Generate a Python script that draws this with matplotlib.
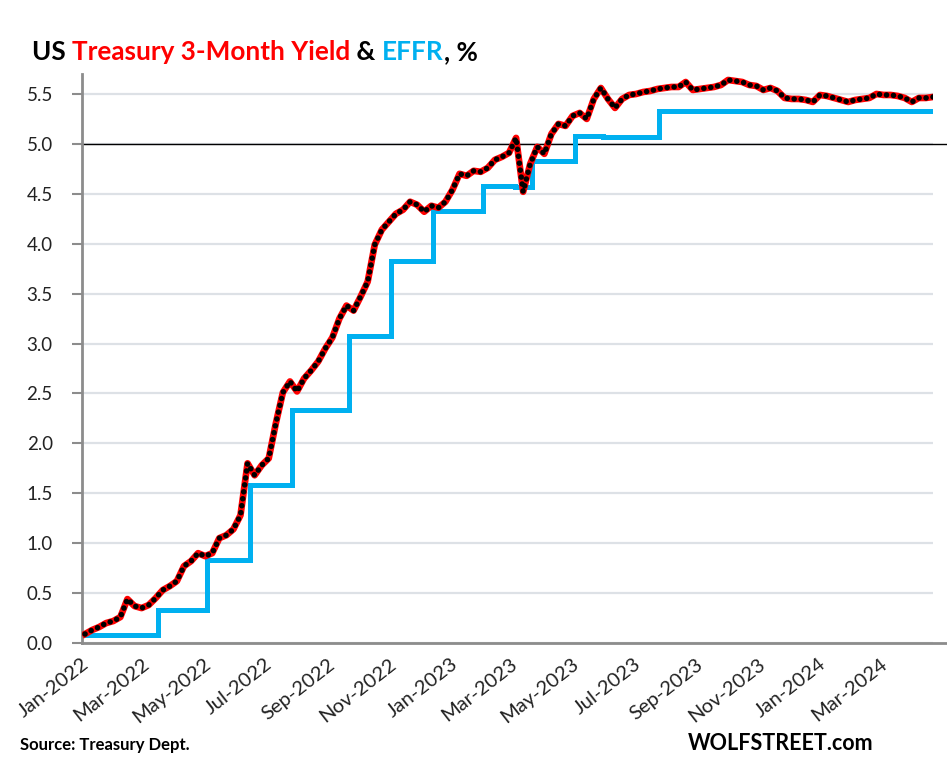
import numpy as np
import pandas as pd
import matplotlib
matplotlib.use('Agg')
from matplotlib import pyplot as plt
from matplotlib import font_manager

red = '#FF0000'
blue = '#00B0F0'
grid_grey = '#DDE1E6'
axis_grey = '#8C8C8C'

# weekly (Tuesday) 3-month Treasury yield
t3m_dates = pd.date_range('2022-01-04', periods=121, freq='7D')
t3m = [0.09, 0.13, 0.16, 0.20, 0.22, 0.26, 0.44, 0.37, 0.35, 0.38,
       0.45, 0.53, 0.57, 0.62, 0.77, 0.82, 0.90, 0.87, 0.90, 1.05,
       1.08, 1.14, 1.28, 1.80, 1.68, 1.78, 1.85, 2.20, 2.51, 2.62,
       2.52, 2.65, 2.73, 2.82, 2.95, 3.06, 3.25, 3.38, 3.33, 3.47,
       3.62, 3.99, 4.14, 4.22, 4.30, 4.34, 4.42, 4.39, 4.32, 4.38,
       4.36, 4.42, 4.54, 4.70, 4.68, 4.73, 4.72, 4.76, 4.84, 4.87,
       4.91, 5.06, 4.52, 4.80, 4.97, 4.90, 5.10, 5.20, 5.18, 5.28,
       5.31, 5.25, 5.45, 5.56, 5.45, 5.36, 5.45, 5.49, 5.50, 5.52,
       5.53, 5.55, 5.56, 5.57, 5.57, 5.62, 5.54, 5.55, 5.56, 5.57,
       5.59, 5.64, 5.63, 5.62, 5.59, 5.58, 5.54, 5.56, 5.53, 5.46,
       5.45, 5.45, 5.44, 5.42, 5.49, 5.48, 5.46, 5.44, 5.42, 5.44,
       5.45, 5.46, 5.50, 5.49, 5.49, 5.48, 5.46, 5.42, 5.46, 5.46,
       5.47]

# EFFR: date of each change and the new level
effr_dates = pd.to_datetime(['2022-01-04', '2022-03-17', '2022-05-05', '2022-06-16',
                             '2022-07-28', '2022-09-22', '2022-11-03', '2022-12-15',
                             '2023-02-02', '2023-03-06', '2023-03-23', '2023-05-04',
                             '2023-06-01', '2023-07-27', '2024-04-23'])
effr = [0.08, 0.33, 0.83, 1.58, 2.33, 3.08, 3.83, 4.33,
        4.58, 4.57, 4.83, 5.08, 5.07, 5.33, 5.33]

tick_dates = pd.date_range('2022-01-01', '2024-03-01', freq='2MS')
tick_labels = [d.strftime('%b-%Y') for d in tick_dates]
yticks = np.arange(0, 5.51, 0.5)

names = {f.name for f in font_manager.fontManager.ttflist}
font = 'Lato' if 'Lato' in names else 'DejaVu Sans'
plt.rcParams['font.family'] = [font, 'DejaVu Sans']

fig = plt.figure(figsize=(9.47, 7.71), dpi=100)
ax = fig.add_axes([82/947, 1 - 643/771, (933 - 82)/947, (643 - 74)/771])

ax.plot(effr_dates, effr, color=blue, lw=3.6, drawstyle='steps-post',
        solid_joinstyle='miter', zorder=3)
ax.plot(t3m_dates, t3m, color=red, lw=4.8, solid_joinstyle='round', zorder=4)
ax.plot(t3m_dates, t3m, color='black', lw=4.0, linestyle=(0, (0.01, 1.25)),
        dash_capstyle='round', zorder=5)

ax.set_xlim(t3m_dates[0], t3m_dates[-1])
ax.set_ylim(0, 5.7)
ax.set_yticks(yticks)
ax.set_yticklabels(['%.1f' % v for v in yticks], fontsize=13.5, color='#222222')
ax.yaxis.grid(True, color=grid_grey, lw=1.6, zorder=0)
ax.set_axisbelow(True)

# black line at 5.0 and the bottom axis run past the plot edge
ax.plot([0, 1.016], [5.0, 5.0], transform=ax.get_yaxis_transform(), color='black',
        lw=1.0, clip_on=False, zorder=2)
ax.plot([0, 1.016], [0, 0], transform=ax.get_yaxis_transform(), color=axis_grey,
        lw=2.0, clip_on=False, zorder=6)

ax.set_xticks(tick_dates)
ax.set_xticklabels(tick_labels, rotation=38, ha='right', rotation_mode='anchor',
                   fontsize=14.5, color='#222222')
ax.tick_params(axis='x', length=0, pad=9)
ax.tick_params(axis='y', length=7, width=1.5, color=axis_grey, pad=14)

for side in ['top', 'right', 'bottom']:
    ax.spines[side].set_visible(False)
ax.spines['left'].set_color(axis_grey)
ax.spines['left'].set_linewidth(2.0)

# title in coloured pieces, each placed after the previous one
title_parts = [('US ', 'black'), ('Treasury 3-Month Yield', red), (' & ', 'black'),
               ('EFFR', blue), (', %', 'black')]
prev = fig.text(32/947, 1 - 60/771, title_parts[0][0], fontsize=18.8, weight='bold',
                color=title_parts[0][1], va='baseline')
for txt, col in title_parts[1:]:
    prev = ax.annotate(txt, xy=(1, 0), xycoords=prev, fontsize=18.8, weight='bold',
                       color=col, va='bottom', annotation_clip=False)

fig.text(20/947, 1 - 745/771, 'Source: Treasury Dept.', fontsize=12, weight='bold',
         va='center', ha='left')
fig.text(873/947, 1 - 743/771, 'WOLFSTREET.com', fontsize=15.5, weight='bold',
         va='center', ha='right')

fig.savefig('out.png', dpi=100)
